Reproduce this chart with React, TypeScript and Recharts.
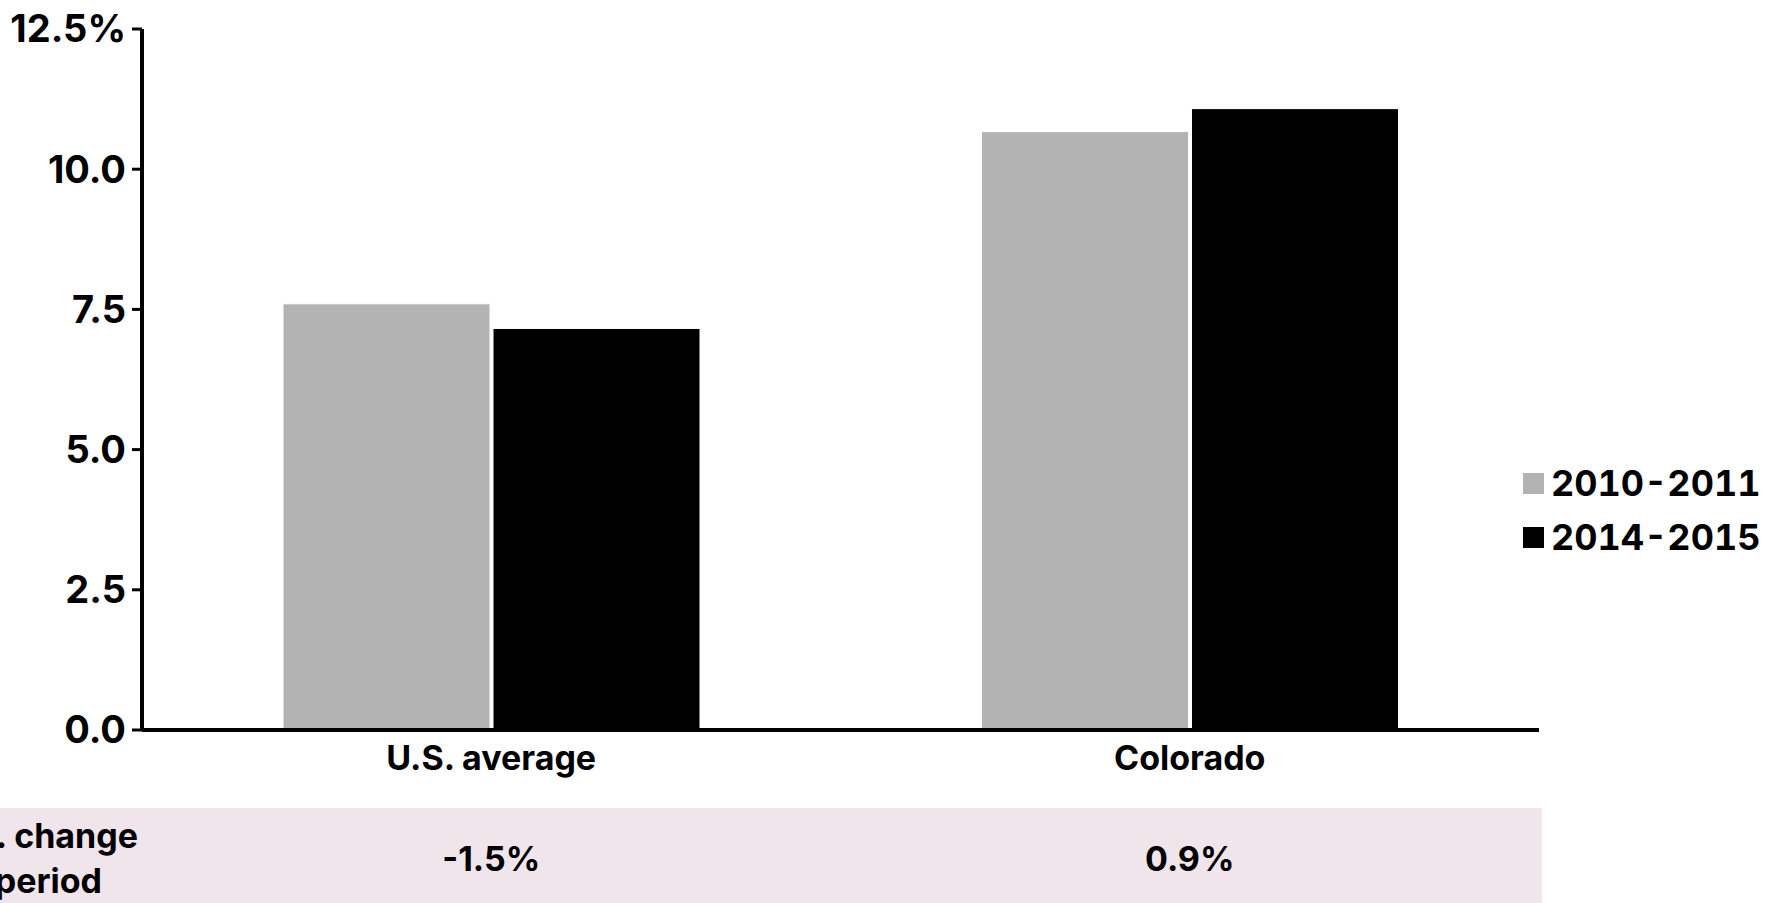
import React from "react";
import { BarChart, Bar, XAxis, YAxis, Legend } from "recharts";

const categories = ["U.S. average", "Colorado"];
const values20102011 = [7.6, 10.67];
const values20142015 = [7.16, 11.08];
const changeLabels = ["-1.5%", "0.9%"];
const yTicks = [0, 2.5, 5, 7.5, 10, 12.5];
const yTickLabels = ["0.0", "2.5", "5.0", "7.5", "10.0", "12.5%"];
const seriesNames = ["2010-2011", "2014-2015"];
const seriesColors = ["#B3B3B3", "#000000"];
const changeRowLabel = ["Annual avg. change", "over the period"];

const data = categories.map((c, i) => ({
  category: c,
  change: changeLabels[i],
  s1: values20102011[i],
  s2: values20142015[i],
}));

const FONT = "Inter, Roboto, sans-serif";
const textStyle = { fill: "#000", fontFamily: FONT, fontWeight: 700 };

const LegendContent = (props: any) => (
  <div style={{ position: "relative", left: -16, width: 260 }}>
    {(props.payload || []).map((p: any, i: number) => (
      <div key={i} style={{ display: "flex", alignItems: "center", height: 54, whiteSpace: "nowrap" }}>
        <span
          style={{
            display: "inline-block",
            flex: "0 0 21px",
            width: 21,
            height: 21,
            background: p.color,
            marginRight: 7,
          }}
        />
        <span
          style={{
            flex: "0 0 auto",
            fontFamily: FONT,
            fontWeight: 700,
            fontSize: 36,
            color: "#000",
            lineHeight: "54px",
            whiteSpace: "nowrap",
            fontVariantNumeric: "tabular-nums",
          }}
        >
          {p.value}
        </span>
      </div>
    ))}
  </div>
);

export default function App() {
  return (
    <div style={{ position: "absolute", left: 0, top: 0, width: 1769, height: 903, background: "#fff", overflow: "hidden" }}>
      <div style={{ position: "absolute", left: 0, top: 808, width: 1542, height: 95, background: "#EFE5EB" }} />
      <svg style={{ position: "absolute", left: 0, top: 0 }} width={1769} height={903}>
        <text x={138} y={848} textAnchor="end" fontSize={34} {...textStyle}>{changeRowLabel[0]}</text>
        <text x={102} y={893} textAnchor="end" fontSize={34} {...textStyle}>{changeRowLabel[1]}</text>
      </svg>
      <div style={{ position: "absolute", left: 0, top: 0 }}>
        <BarChart
          width={1769}
          height={903}
          data={data}
          margin={{ top: 29, right: 0, bottom: 0, left: 0 }}
          barGap={3}
          barSize={207}
        >
          <YAxis
            width={142}
            type="number"
            domain={[0, 12.5]}
            ticks={yTicks}
            interval={0}
            tickFormatter={(v: number) => yTickLabels[yTicks.indexOf(v)]}
            axisLine={{ stroke: "#000", strokeWidth: 4 }}
            tickLine={{ stroke: "#000", strokeWidth: 3 }}
            tickSize={10}
            tickMargin={6}
            tick={{ ...textStyle, fontSize: 38 }}
          />
          <XAxis
            dataKey="category"
            interval={0}
            axisLine={{ stroke: "#000", strokeWidth: 4 }}
            tickLine={false}
            tickSize={0}
            tickMargin={16}
            height={78}
            tick={{ ...textStyle, fontSize: 34 }}
          />
          <XAxis
            xAxisId="chg"
            dataKey="change"
            interval={0}
            axisLine={false}
            tickLine={false}
            tickSize={0}
            tickMargin={39}
            height={95}
            tick={{ ...textStyle, fontSize: 34 }}
          />
          <Legend
            layout="vertical"
            align="right"
            verticalAlign="middle"
            width={230}
            wrapperStyle={{ top: 456, right: 0, width: 230, overflow: "visible" }}
            content={<LegendContent />}
          />
          <Bar dataKey="s1" name={seriesNames[0]} fill={seriesColors[0]} stroke="#fff" strokeWidth={1} isAnimationActive={false} />
          <Bar dataKey="s2" name={seriesNames[1]} fill={seriesColors[1]} stroke="#fff" strokeWidth={1} isAnimationActive={false} />
        </BarChart>
      </div>
    </div>
  );
}
